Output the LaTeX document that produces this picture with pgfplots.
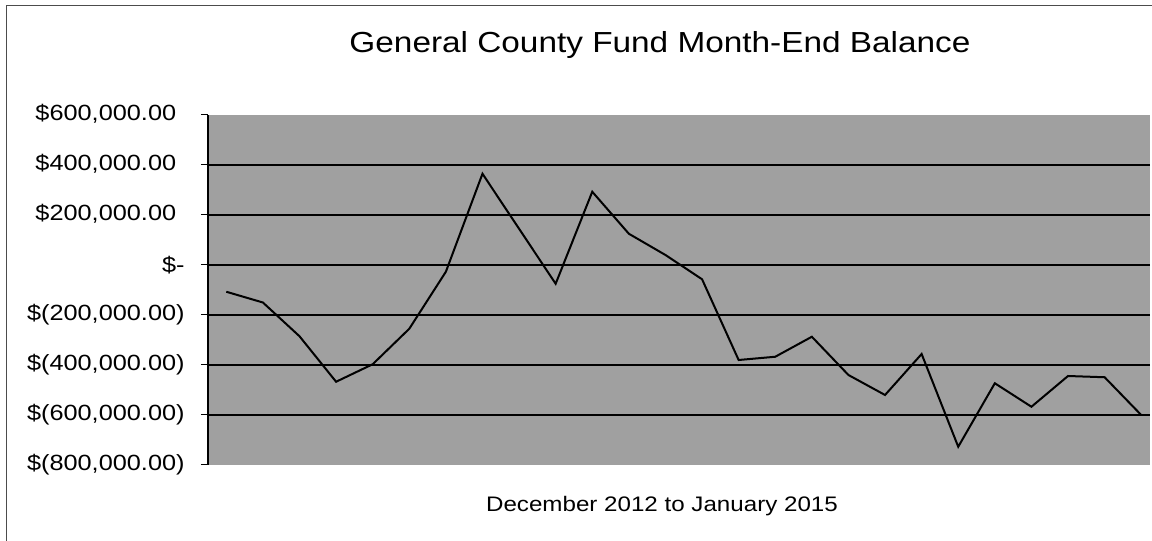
\documentclass[border=0pt]{standalone}
\usepackage{pgfplots}
\pgfplotsset{compat=1.18}
\usepackage{fontspec}
\setmainfont[FakeStretch=1.15]{Liberation Sans}
\definecolor{plotbg}{RGB}{160,160,160}
\begin{document}
\begin{tikzpicture}
\useasboundingbox (0,0) rectangle (576pt,270.5pt);
\draw[black!70, line width=0.5pt] (3pt,0) -- (3pt,267.5pt) -- (576pt,267.5pt);
\begin{axis}[
  at={(104pt,38pt)}, anchor=south west,
  scale only axis, width=471pt, height=175pt,
  xmin=-0.5, xmax=25.24,
  ymin=-800000, ymax=600000,
  scaled y ticks=false,
  axis x line=none,
  axis y line*=left,
  axis line style={black, line width=0.6pt},
  axis background/.style={fill=plotbg},
  xtick=\empty,
  ytick={-800000,-600000,-400000,-200000,0,200000,400000,600000},
  yticklabels={{\$(800,000.00)},{\$(600,000.00)},{\$(400,000.00)},{\$(200,000.00)},{\$-\hspace{13pt}},{\$200,000.00\phantom{)}},{\$400,000.00\phantom{)}},{\$600,000.00\phantom{)}}},
  yticklabel style={font=\fontsize{11}{13}\selectfont, anchor=east, inner sep=0pt, xshift=-8pt},
  tick align=outside,
  major tick length=3.5pt,
  tick style={black, line width=0.5pt},
  extra y ticks={-600000,-400000,-200000,0,200000,400000},
  extra y tick labels={},
  extra y tick style={ymajorgrids=true, major tick length=0pt},
  grid style={black, line width=0.6pt},
  clip=false,
]
\addplot[black, line width=1pt] coordinates {
(0,-107000) (1,-150000) (2,-285000) (3,-467000) (4,-397000) (5,-255000)
(6,-27000) (7,365000) (8,145000) (9,-75000) (10,293000) (11,125000)
(12,40000) (13,-57000) (14,-380000) (15,-367000) (16,-287000) (17,-440000)
(18,-520000) (19,-356000) (20,-727000) (21,-473000) (22,-567000) (23,-444000)
(24,-449000) (25,-600000)
};
\end{axis}
\node[font=\fontsize{14.5}{17}\selectfont] at (330pt,248pt) {General County Fund Month-End Balance};
\node[font=\fontsize{10.5}{12}\selectfont] at (331pt,17.5pt) {December 2012 to January 2015};
\end{tikzpicture}
\end{document}
